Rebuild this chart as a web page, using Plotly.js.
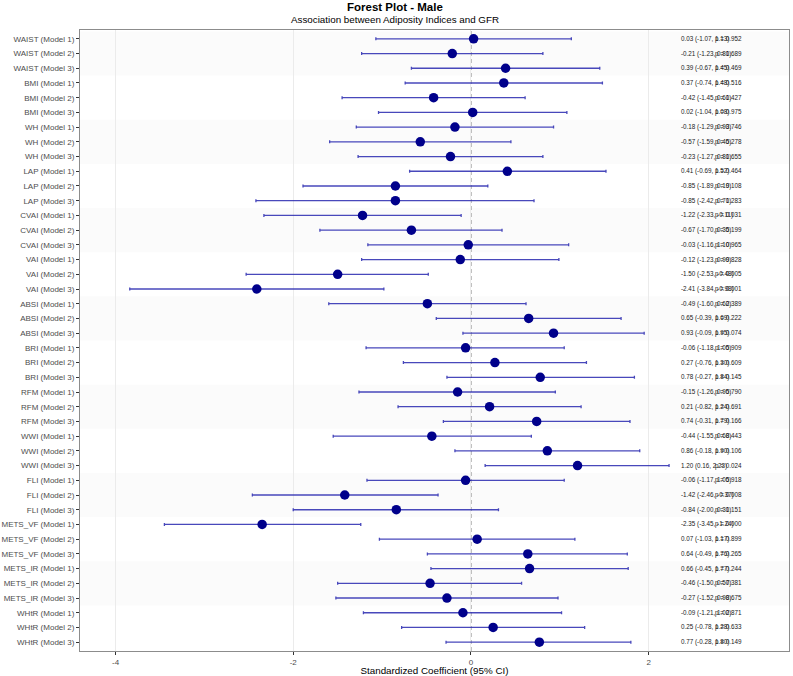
<!DOCTYPE html>
<html>
<head>
<meta charset="utf-8">
<script src="https://cdn.plot.ly/plotly-3.0.1.min.js"></script>
<style>html,body{margin:0;padding:0;background:#fff;}#chart{width:793px;height:676px;}</style>
</head>
<body>
<div id="chart"></div>
<script>
const labels = [
  "WAIST (Model 1)","WAIST (Model 2)","WAIST (Model 3)",
  "BMI (Model 1)","BMI (Model 2)","BMI (Model 3)",
  "WH (Model 1)","WH (Model 2)","WH (Model 3)",
  "LAP (Model 1)","LAP (Model 2)","LAP (Model 3)",
  "CVAI (Model 1)","CVAI (Model 2)","CVAI (Model 3)",
  "VAI (Model 1)","VAI (Model 2)","VAI (Model 3)",
  "ABSI (Model 1)","ABSI (Model 2)","ABSI (Model 3)",
  "BRI (Model 1)","BRI (Model 2)","BRI (Model 3)",
  "RFM (Model 1)","RFM (Model 2)","RFM (Model 3)",
  "WWI (Model 1)","WWI (Model 2)","WWI (Model 3)",
  "FLI (Model 1)","FLI (Model 2)","FLI (Model 3)",
  "METS_VF (Model 1)","METS_VF (Model 2)","METS_VF (Model 3)",
  "METS_IR (Model 1)","METS_IR (Model 2)","METS_IR (Model 3)",
  "WHtR (Model 1)","WHtR (Model 2)","WHtR (Model 3)"
];
const estimate = [0.03,-0.21,0.39, 0.37,-0.42,0.02, -0.18,-0.57,-0.23, 0.41,-0.85,-0.85,
  -1.22,-0.67,-0.03, -0.12,-1.50,-2.41, -0.49,0.65,0.93, -0.06,0.27,0.78,
  -0.15,0.21,0.74, -0.44,0.86,1.20, -0.06,-1.42,-0.84, -2.35,0.07,0.64,
  0.66,-0.46,-0.27, -0.09,0.25,0.77];
const lower = [-1.07,-1.23,-0.67, -0.74,-1.45,-1.04, -1.29,-1.59,-1.27, -0.69,-1.89,-2.42,
  -2.33,-1.70,-1.16, -1.23,-2.53,-3.84, -1.60,-0.39,-0.09, -1.18,-0.76,-0.27,
  -1.26,-0.82,-0.31, -1.55,-0.18,0.16, -1.17,-2.46,-2.00, -3.45,-1.03,-0.49,
  -0.45,-1.50,-1.52, -1.21,-0.78,-0.28];
const upper = [1.13,0.81,1.45, 1.48,0.61,1.08, 0.93,0.45,0.81, 1.52,0.19,0.71,
  -0.11,0.35,1.10, 0.99,-0.48,-0.98, 0.62,1.69,1.95, 1.05,1.30,1.84,
  0.95,1.24,1.79, 0.68,1.90,2.23, 1.05,-0.37,0.31, -1.24,1.17,1.76,
  1.77,0.57,0.98, 1.02,1.28,1.80];
const pvalue = ["0.952","0.689","0.469", "0.516","0.427","0.975", "0.746","0.278","0.655",
  "0.464","0.108","0.283", "0.031","0.199","0.965", "0.828","0.005","0.001",
  "0.389","0.222","0.074", "0.909","0.609","0.145", "0.790","0.691","0.166",
  "0.443","0.106","0.024", "0.918","0.008","0.151", "0.000","0.899","0.265",
  "0.244","0.381","0.675", "0.871","0.633","0.149"];
const xTicks = [-4,-2,0,2];

const rows = labels.map((_, i) => i);
const fmt = v => v.toFixed(2);

const trace = {
  type: 'scatter', mode: 'markers',
  x: estimate, y: rows,
  marker: {color: '#00008B', size: 9.5},
  error_x: {
    type: 'data', symmetric: false,
    array: estimate.map((e, i) => upper[i] - e),
    arrayminus: estimate.map((e, i) => e - lower[i]),
    color: 'rgba(40,40,175,0.85)', thickness: 1.3, width: 1.5
  },
  hoverinfo: 'none', showlegend: false
};

const shapes = [];
for (let g = 0; g < labels.length / 3; g += 2) {
  shapes.push({type: 'rect', layer: 'below', xref: 'paper', yref: 'y',
    x0: 0, x1: 1, y0: g * 3 - 0.5, y1: g * 3 + 2.5,
    fillcolor: 'rgba(0,0,0,0.015)', line: {width: 0}});
}
shapes.push({type: 'line', layer: 'below', xref: 'x', yref: 'paper',
  x0: 0, x1: 0, y0: 0, y1: 1, line: {color: '#6e6e6e', width: 1, dash: '4px,3px'}});

const annotations = [];
rows.forEach(i => {
  annotations.push({xref: 'x', yref: 'y', x: 2.34, y: i, xanchor: 'left', yanchor: 'middle',
    text: fmt(estimate[i]) + ' (' + fmt(lower[i]) + ', ' + fmt(upper[i]) + ')',
    showarrow: false, font: {size: 6.3, color: '#1a1a1a'}});
  annotations.push({xref: 'x', yref: 'y', x: 3.07, y: i, xanchor: 'right', yanchor: 'middle',
    text: 'p = ' + pvalue[i], showarrow: false, font: {size: 6.3, color: '#1a1a1a'}});
});
annotations.push({xref: 'paper', yref: 'paper', x: 0.444, y: 1 + 23 / 621, xanchor: 'center', yanchor: 'middle',
  text: '<b>Forest Plot - Male</b>', showarrow: false, font: {size: 11.5, color: '#000'}});
annotations.push({xref: 'paper', yref: 'paper', x: 0.444, y: 1 + 10 / 621, xanchor: 'center', yanchor: 'middle',
  text: 'Association between Adiposity Indices and GFR', showarrow: false, font: {size: 9.8, color: '#000'}});

const layout = {
  width: 793, height: 676,
  margin: {l: 80, r: 4, t: 30, b: 25},
  paper_bgcolor: '#fff', plot_bgcolor: '#fff',
  font: {family: 'Liberation Sans, Arial, sans-serif', color: '#4d4d4d'},
  xaxis: {
    range: [-4.40, 3.58], tickvals: xTicks, ticktext: xTicks.map(String),
    showgrid: true, gridcolor: '#ebebeb', gridwidth: 1, zeroline: false,
    ticks: 'outside', ticklen: 3, tickcolor: '#333', tickfont: {size: 8, color: '#4d4d4d'},
    showline: true, linecolor: '#8c8c8c', linewidth: 1, mirror: true,
    title: {text: 'Standardized Coefficient (95% CI)', font: {size: 9.8, color: '#000'}, standoff: 1}
  },
  yaxis: {
    range: [labels.length - 0.4, -0.6], tickvals: rows, ticktext: labels,
    showgrid: false, zeroline: false,
    ticks: 'outside', ticklen: 3, tickcolor: '#333', tickfont: {size: 8, color: '#4d4d4d'},
    showline: true, linecolor: '#8c8c8c', linewidth: 1, mirror: true
  },
  shapes: shapes, annotations: annotations
};

Plotly.newPlot('chart', [trace], layout, {displayModeBar: false, staticPlot: true});
</script>
</body>
</html>
